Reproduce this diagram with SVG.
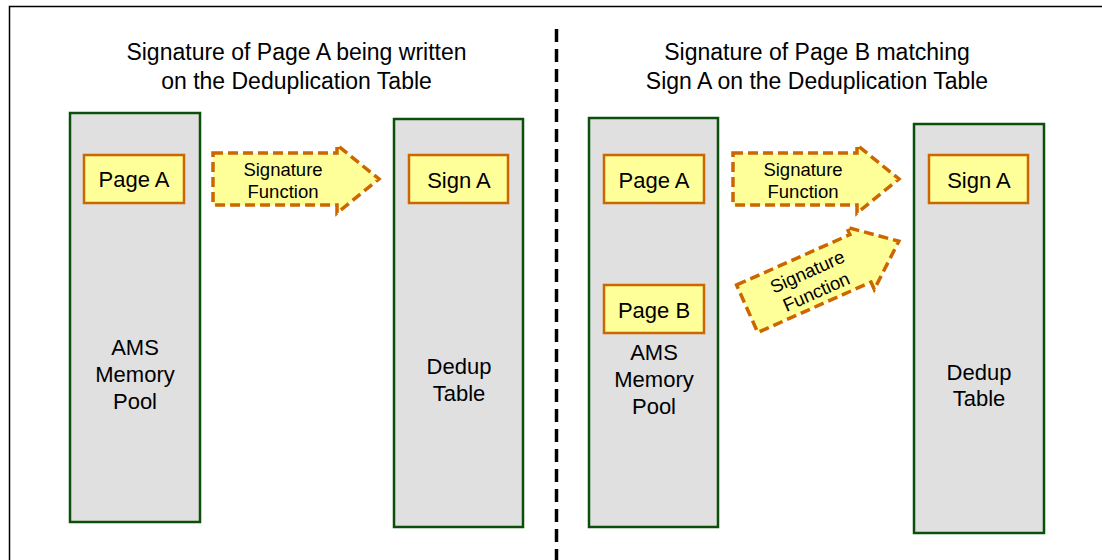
<svg xmlns="http://www.w3.org/2000/svg" width="1102" height="560" viewBox="0 0 1102 560">
  <defs>
    <style>
      text { font-family: "Liberation Sans", Arial, sans-serif; fill: #000; text-anchor: middle; }
      .title { font-size: 23px; }
      .lbl { font-size: 22px; }
      .arr-t { font-size: 18.5px; }
      .pool { fill: #e0e0e0; stroke: #0b4f0b; stroke-width: 2.5; }
      .box { fill: #ffff99; stroke: #cc6600; stroke-width: 2.5; }
      .arrow { fill: #ffff99; stroke: #cc6600; stroke-width: 3.5; stroke-dasharray: 10 5; }
    </style>
    <path id="arr" d="M-83,-26 L41,-26 L41,-34 L83,0 L41,34 L41,26 L-83,26 Z"/>
  </defs>
  <rect width="1102" height="560" fill="#fff"/>
  <path d="M9.5,560 L9.5,6.5 L1102,6.5" fill="none" stroke="#000" stroke-width="1.5"/>
  <line x1="556.5" y1="29" x2="556.5" y2="560" stroke="#000" stroke-width="3.5" stroke-dasharray="13 7"/>

  <g id="title-left">
    <text class="title" x="296.5" y="60">Signature of Page A being written</text>
    <text class="title" x="296.5" y="89">on the Deduplication Table</text>
  </g>
  <g id="title-right">
    <text class="title" x="817" y="60">Signature of Page B matching</text>
    <text class="title" x="817" y="89">Sign A on the Deduplication Table</text>
  </g>

  <g id="pool-left">
    <rect class="pool" x="70" y="113" width="130" height="409"/>
    <text class="lbl" x="135" y="355">AMS</text>
    <text class="lbl" x="135" y="382">Memory</text>
    <text class="lbl" x="135" y="409">Pool</text>
  </g>
  <g id="pageA-left">
    <rect class="box" x="84" y="155" width="100" height="48"/>
    <text class="lbl" x="134" y="187">Page A</text>
  </g>
  <g id="dedup-left">
    <rect class="pool" x="394" y="119" width="129" height="408"/>
    <text class="lbl" x="459" y="374">Dedup</text>
    <text class="lbl" x="459" y="401">Table</text>
  </g>
  <g id="signA-left">
    <rect class="box" x="409" y="155" width="99" height="48"/>
    <text class="lbl" x="459" y="188">Sign A</text>
  </g>

  <g id="pool-right">
    <rect class="pool" x="589" y="118" width="129" height="409"/>
    <text class="lbl" x="654" y="360">AMS</text>
    <text class="lbl" x="654" y="387">Memory</text>
    <text class="lbl" x="654" y="414">Pool</text>
  </g>
  <g id="pageA-right">
    <rect class="box" x="604" y="155" width="100" height="48"/>
    <text class="lbl" x="654" y="188">Page A</text>
  </g>
  <g id="pageB-right">
    <rect class="box" x="604" y="285" width="100" height="48"/>
    <text class="lbl" x="654" y="318">Page B</text>
  </g>
  <g id="dedup-right">
    <rect class="pool" x="914" y="124" width="130" height="409"/>
    <text class="lbl" x="979" y="380">Dedup</text>
    <text class="lbl" x="979" y="406">Table</text>
  </g>
  <g id="signA-right">
    <rect class="box" x="929" y="155" width="99" height="48"/>
    <text class="lbl" x="979" y="188">Sign A</text>
  </g>

  <g id="connectors">
    <g transform="translate(296,179)">
      <use href="#arr" class="arrow"/>
      <text class="arr-t" x="-13" y="-3">Signature</text>
      <text class="arr-t" x="-13" y="19">Function</text>
    </g>
    <g transform="translate(816,179)">
      <use href="#arr" class="arrow"/>
      <text class="arr-t" x="-13" y="-3">Signature</text>
      <text class="arr-t" x="-13" y="19">Function</text>
    </g>
    <g transform="translate(823,275) rotate(-24)">
      <use href="#arr" class="arrow"/>
      <text class="arr-t" x="-13" y="-3">Signature</text>
      <text class="arr-t" x="-13" y="19">Function</text>
    </g>
  </g>
</svg>
